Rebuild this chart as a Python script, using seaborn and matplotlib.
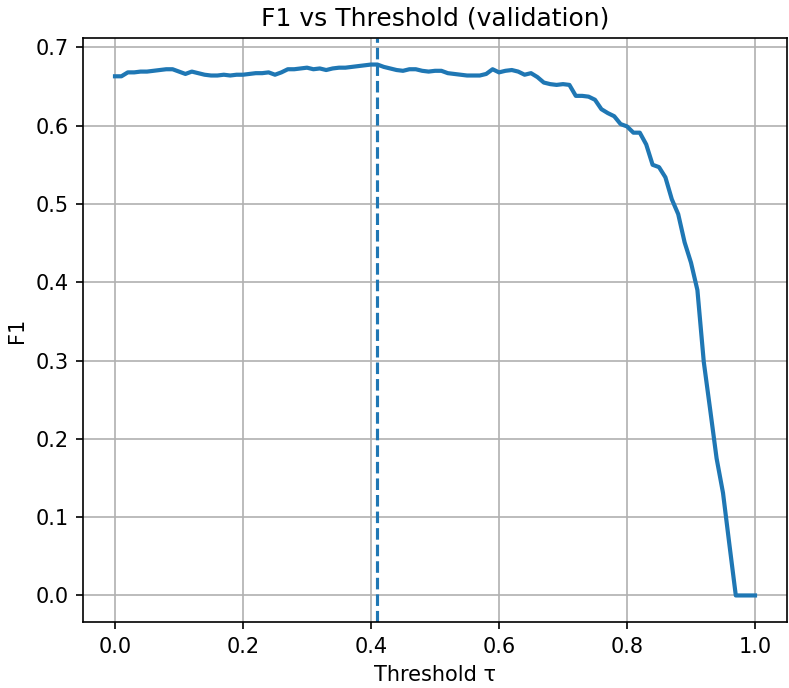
import numpy as np
import pandas as pd
import seaborn as sns
import matplotlib
matplotlib.use("Agg")
import matplotlib.pyplot as plt

# thresholds 0.00 .. 1.00 in steps of 0.01
thresholds = np.round(np.arange(0, 101) / 100, 2)

f1_scores = [
    0.663, 0.663, 0.668, 0.668, 0.669, 0.669, 0.670, 0.671, 0.672, 0.672,  # 0.00-0.09
    0.669, 0.666, 0.669, 0.667, 0.665, 0.664, 0.664, 0.665, 0.664, 0.665,  # 0.10-0.19
    0.665, 0.666, 0.667, 0.667, 0.668, 0.665, 0.668, 0.672, 0.672, 0.673,  # 0.20-0.29
    0.674, 0.672, 0.673, 0.671, 0.673, 0.674, 0.674, 0.675, 0.676, 0.677,  # 0.30-0.39
    0.678, 0.678, 0.675, 0.673, 0.671, 0.670, 0.672, 0.672, 0.670, 0.669,  # 0.40-0.49
    0.670, 0.670, 0.667, 0.666, 0.665, 0.664, 0.664, 0.664, 0.666, 0.672,  # 0.50-0.59
    0.668, 0.670, 0.671, 0.669, 0.665, 0.667, 0.662, 0.655, 0.653, 0.652,  # 0.60-0.69
    0.653, 0.652, 0.638, 0.638, 0.637, 0.633, 0.621, 0.616, 0.612, 0.602,  # 0.70-0.79
    0.599, 0.591, 0.591, 0.576, 0.550, 0.547, 0.534, 0.506, 0.487, 0.451,  # 0.80-0.89
    0.425, 0.390, 0.298, 0.237, 0.175, 0.131, 0.065, 0.000, 0.000, 0.000,  # 0.90-0.99
    0.000,                                                                 # 1.00
]

best_threshold = 0.41

df = pd.DataFrame({"threshold": thresholds, "f1": f1_scores})

fig = plt.figure(figsize=(789 / 150, 688 / 150), dpi=150)
ax = fig.add_axes([83 / 789, 1 - 622 / 688, (787 - 83) / 789, (622 - 38) / 688])

sns.lineplot(data=df, x="threshold", y="f1", color="C0", linewidth=2, ax=ax)
ax.axvline(best_threshold, color="C0", linestyle="--", linewidth=1.5)

ax.set_title("F1 vs Threshold (validation)")
ax.set_xlabel("Threshold τ")
ax.set_ylabel("F1")
ax.grid(True)

fig.savefig("out.png", dpi=150)
